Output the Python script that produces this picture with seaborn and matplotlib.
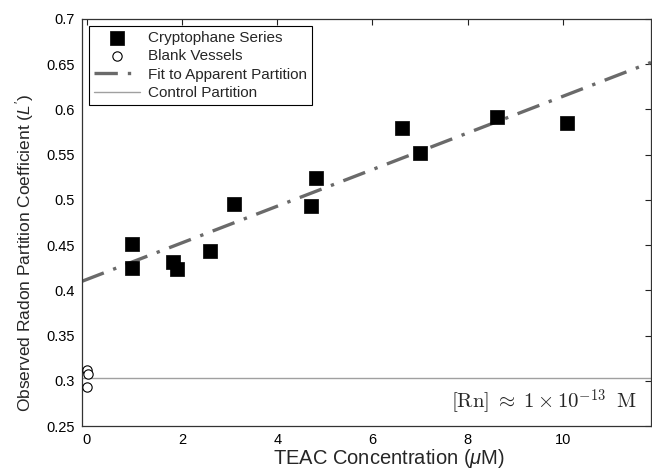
import matplotlib
matplotlib.use("Agg")
import matplotlib.pyplot as plt
import seaborn as sns
import numpy as np
import pandas as pd

# ---- data ----
crypto_x = [0.94, 0.96, 1.82, 1.89, 2.59, 3.10, 4.70, 4.82, 6.62, 6.99, 8.62, 10.08]
crypto_y = [0.451, 0.425, 0.431, 0.424, 0.443, 0.495, 0.493, 0.524, 0.580, 0.552, 0.592, 0.585]
blank_x = [0.00, 0.035, 0.00]
blank_y = [0.312, 0.308, 0.293]
fit_x = [-0.1, 11.85]
fit_y = [0.410, 0.652]
control_x = [-0.1, 11.85]
control_y = [0.303, 0.303]
x_ticks = [0, 2, 4, 6, 8, 10]
y_ticks = [0.25, 0.3, 0.35, 0.4, 0.45, 0.5, 0.55, 0.6, 0.65, 0.7]
y_tick_labels = ["0.25", "0.3", "0.35", "0.4", "0.45", "0.5", "0.55", "0.6", "0.65", "0.7"]

sns.set_theme(style="white")
plt.rcParams["font.family"] = ["Liberation Sans", "DejaVu Sans"]
plt.rcParams["mathtext.fontset"] = "custom"
plt.rcParams["mathtext.rm"] = "Liberation Sans"
plt.rcParams["mathtext.it"] = "Liberation Sans:italic"
plt.rcParams["mathtext.bf"] = "Liberation Sans:bold"

fig = plt.figure(figsize=(6.52, 4.73), dpi=100)
ax = fig.add_axes([82 / 652, 47 / 473, 569 / 652, 407 / 473])

df_c = pd.DataFrame({"x": crypto_x, "y": crypto_y})
df_b = pd.DataFrame({"x": blank_x, "y": blank_y})
df_f = pd.DataFrame({"x": fit_x, "y": fit_y})
df_k = pd.DataFrame({"x": control_x, "y": control_y})

sns.lineplot(data=df_k, x="x", y="y", ax=ax, color="#a0a0a0", linewidth=1.0,
             label="Control Partition", zorder=1)
sns.lineplot(data=df_f, x="x", y="y", ax=ax, color="#6a6a6a", linewidth=2.4,
             label="Fit to Apparent Partition", zorder=2)
ax.lines[-1].set_dashes([7, 3, 1, 3])
sns.scatterplot(data=df_c, x="x", y="y", ax=ax, marker="s", s=100, color="black",
                edgecolor="black", linewidth=0.5, label="Cryptophane Series", zorder=3)
sns.scatterplot(data=df_b, x="x", y="y", ax=ax, marker="o", s=45, facecolor="white",
                edgecolor="black", linewidth=0.8, label="Blank Vessels", zorder=3)

ax.set_xlim(-0.1, 11.85)
ax.set_ylim(0.25, 0.7)
ax.set_xticks(x_ticks)
ax.set_yticks(y_ticks)
ax.set_yticklabels(y_tick_labels)
ax.tick_params(direction="in", length=4, width=0.8, top=True, right=True,
               labeltop=False, labelright=False, labelsize=10.5, colors="#222222",
               labelcolor="black", pad=5)
for s in ax.spines.values():
    s.set_color("#333333")
    s.set_linewidth(0.9)

ax.set_xlabel(r"TEAC Concentration ($\mu$M)", fontsize=14.5)
ax.xaxis.set_label_coords(0.54, -0.052)
ax.set_ylabel(r"Observed Radon Partition Coefficient ($L'$)", fontsize=12.5)
ax.yaxis.set_label_coords(-0.080, 0.424)

ax.text(0.975, 0.044, r"$[\mathrm{Rn}]\;\approx\;1\times10^{-13}\;\;\mathrm{M}$",
        transform=ax.transAxes, ha="right", va="baseline", fontsize=15,
        math_fontfamily="cm")

handles, labels = ax.get_legend_handles_labels()
order = ["Cryptophane Series", "Blank Vessels", "Fit to Apparent Partition", "Control Partition"]
hmap = dict(zip(labels, handles))
leg = ax.legend([hmap[k] for k in order], order, loc="upper left", fontsize=11,
                frameon=True, fancybox=False, edgecolor="black", framealpha=1,
                handlelength=3.0, handletextpad=0.5, labelspacing=0.28,
                borderpad=0.35, borderaxespad=0.45)
leg.get_frame().set_linewidth(0.8)

fig.savefig("out.png", dpi=100)
